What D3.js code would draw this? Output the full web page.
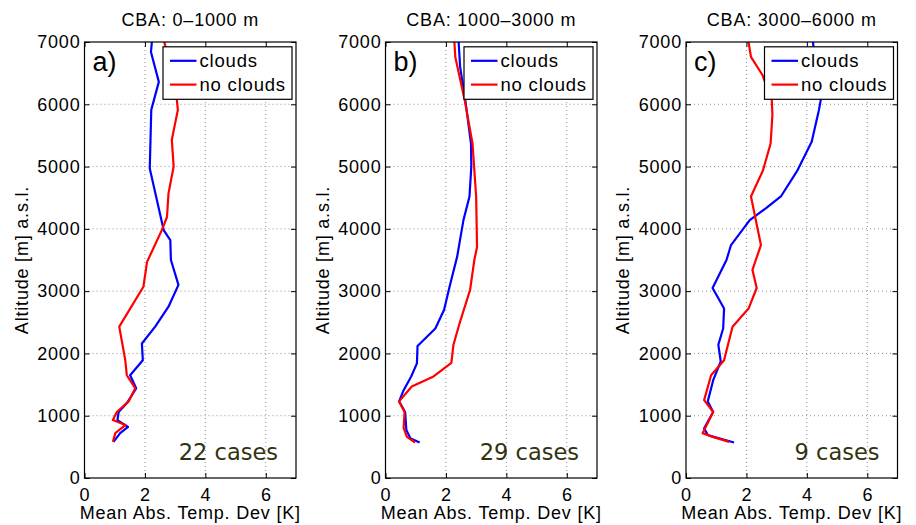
<!DOCTYPE html>
<html>
<head>
<meta charset="utf-8">
<script src="https://cdn.jsdelivr.net/npm/d3@7"></script>
<style>
  html, body { margin: 0; padding: 0; background: #fff; }
  svg { display: block; }
  text { font-family: "Liberation Sans", Arial, Helvetica, sans-serif; fill: #000; }
</style>
</head>
<body>
<svg id="chart" width="916" height="525"></svg>
<script>
// Mean absolute temperature deviation profiles, grouped by cloud base altitude (CBA)
const panelTitles = ["CBA: 0\u20131000 m", "CBA: 1000\u20133000 m", "CBA: 3000\u20136000 m"];
const panelTags = ["a)", "b)", "c)"];
const caseCounts = ["22 cases", "29 cases", "9 cases"];
const seriesNames = ["clouds", "no clouds"];
const xTicks = [0, 2, 4, 6];
const yTicks = [0, 1000, 2000, 3000, 4000, 5000, 6000, 7000];

// Panel a) CBA 0-1000 m
const altA_clouds = [7000, 6840, 6360, 5910, 4970, 3980, 3820, 3500, 3100, 2750, 2430, 2160, 1890, 1650, 1440, 1200, 1060, 930, 820, 720, 580];
const devA_clouds = [2.23, 2.20, 2.46, 2.21, 2.16, 2.62, 2.84, 2.86, 3.11, 2.78, 2.34, 1.90, 1.93, 1.51, 1.71, 1.40, 1.13, 1.09, 1.44, 1.18, 0.96];
const altA_noclouds = [7000, 6340, 5910, 5430, 5000, 4570, 4190, 3980, 3470, 3070, 2430, 1890, 1650, 1440, 1230, 1060, 930, 850, 720, 580];
const devA_noclouds = [2.64, 3.00, 3.09, 2.89, 2.95, 2.78, 2.73, 2.56, 2.07, 1.95, 1.15, 1.35, 1.40, 1.68, 1.46, 1.07, 0.94, 1.35, 1.02, 0.94];

// Panel b) CBA 1000-3000 m
const altB_clouds = [7000, 6600, 6070, 5370, 5000, 4520, 4140, 3550, 3070, 2700, 2400, 2120, 1840, 1630, 1410, 1230, 1060, 770, 640, 570];
const devB_clouds = [2.42, 2.47, 2.64, 2.83, 2.84, 2.78, 2.58, 2.37, 2.12, 1.94, 1.65, 1.06, 1.04, 0.85, 0.60, 0.45, 0.65, 0.69, 0.82, 1.13];
const altB_noclouds = [7000, 6760, 6070, 5370, 4520, 3710, 3500, 3020, 2480, 2140, 1850, 1630, 1470, 1230, 1060, 800, 660, 570];
const devB_noclouds = [2.28, 2.31, 2.62, 2.88, 3.00, 3.03, 2.94, 2.80, 2.45, 2.25, 2.18, 1.59, 0.87, 0.45, 0.63, 0.60, 0.71, 0.98];

// Panel c) CBA 3000-6000 m
const altC_clouds = [7000, 6070, 5910, 5400, 4940, 4520, 4330, 4140, 3740, 3500, 3050, 2720, 2400, 2140, 1870, 1570, 1230, 1060, 800, 690, 570];
const devC_clouds = [4.20, 4.46, 4.40, 4.16, 3.69, 3.14, 2.64, 2.11, 1.49, 1.34, 0.88, 1.26, 1.23, 1.07, 1.15, 0.90, 0.72, 0.90, 0.60, 0.72, 1.59];
const altC_noclouds = [7000, 6760, 6470, 6070, 5830, 5370, 4940, 4520, 3740, 3500, 3340, 3050, 2720, 2430, 1890, 1650, 1250, 1060, 720, 660, 580];
const devC_noclouds = [2.07, 2.15, 2.53, 2.84, 2.86, 2.80, 2.55, 2.15, 2.48, 2.31, 2.20, 2.34, 2.07, 1.54, 1.26, 0.83, 0.60, 0.90, 0.55, 0.88, 1.43];

const panels = [
  { clouds: [altA_clouds, devA_clouds], noclouds: [altA_noclouds, devA_noclouds] },
  { clouds: [altB_clouds, devB_clouds], noclouds: [altB_noclouds, devB_noclouds] },
  { clouds: [altC_clouds, devC_clouds], noclouds: [altC_noclouds, devC_noclouds] }
];

const seriesColors = ["#0000ff", "#ff0000"];
const svg = d3.select("#chart");

const lefts = [84.5, 385.5, 686];
const plotW = 211.5;
const plotTop = 42, plotBottom = 478;
const tickFont = "18px";
const spacing = "0.8px";

panels.forEach((p, i) => {
  const x0 = lefts[i];
  const x = d3.scaleLinear().domain([0, 7]).range([x0, x0 + plotW]);
  const y = d3.scaleLinear().domain([0, 7000]).range([plotBottom, plotTop]);
  const g = svg.append("g");

  // dotted grid
  g.append("g").selectAll("line").data(xTicks.filter(t => t > 0)).join("line")
    .attr("x1", d => x(d)).attr("x2", d => x(d)).attr("y1", plotTop).attr("y2", plotBottom)
    .attr("stroke", "#909090").attr("stroke-width", 1).attr("stroke-dasharray", "1,3");
  g.append("g").selectAll("line").data(yTicks.filter(t => t > 0 && t < 7000)).join("line")
    .attr("x1", x0).attr("x2", x0 + plotW).attr("y1", d => y(d)).attr("y2", d => y(d))
    .attr("stroke", "#909090").attr("stroke-width", 1).attr("stroke-dasharray", "1,3");

  // profile lines, clipped to the axes box
  const clipId = "clip" + i;
  svg.append("clipPath").attr("id", clipId).append("rect")
    .attr("x", x0).attr("y", plotTop).attr("width", plotW).attr("height", plotBottom - plotTop);
  const line = d3.line().x(d => x(d[1])).y(d => y(d[0]));
  [p.clouds, p.noclouds].forEach((s, k) => {
    const pts = s[0].map((a, j) => [a, s[1][j]]);
    g.append("path").datum(pts)
      .attr("clip-path", `url(#${clipId})`)
      .attr("d", line).attr("fill", "none")
      .attr("stroke", seriesColors[k]).attr("stroke-width", 2.2)
      .attr("stroke-linejoin", "round");
  });

  // axes: ticks point inward on all four sides
  const styleAxis = sel => {
    sel.select(".domain").remove();
    sel.selectAll(".tick line").attr("stroke", "#000");
    sel.selectAll(".tick text").style("font-size", tickFont).style("letter-spacing", spacing)
      .attr("fill", "#000").style("font-family", "'Liberation Sans', Arial, sans-serif");
  };
  g.append("g").attr("transform", `translate(0,${plotBottom})`)
    .call(d3.axisBottom(x).tickValues(xTicks).tickSizeInner(-5).tickSizeOuter(0).tickPadding(10).tickFormat(d3.format("d")))
    .call(styleAxis);
  g.append("g").attr("transform", `translate(0,${plotTop})`)
    .call(d3.axisTop(x).tickValues(xTicks).tickSizeInner(-5).tickSizeOuter(0).tickFormat(""))
    .call(styleAxis);
  g.append("g").attr("transform", `translate(${x0},0)`)
    .call(d3.axisLeft(y).tickValues(yTicks).tickSizeInner(-5).tickSizeOuter(0).tickPadding(4).tickFormat(d3.format("d")))
    .call(styleAxis);
  g.append("g").attr("transform", `translate(${x0 + plotW},0)`)
    .call(d3.axisRight(y).tickValues(yTicks).tickSizeInner(-5).tickSizeOuter(0).tickFormat(""))
    .call(styleAxis);

  // axes box
  g.append("rect").attr("x", x0).attr("y", plotTop).attr("width", plotW).attr("height", plotBottom - plotTop)
    .attr("fill", "none").attr("stroke", "#000").attr("stroke-width", 1.2);

  // title
  g.append("text").attr("x", x0 + plotW / 2).attr("y", 26).attr("text-anchor", "middle")
    .style("font-size", "18px").style("letter-spacing", spacing).text(panelTitles[i]);

  // axis labels
  g.append("text").attr("x", x0 + plotW / 2).attr("y", 519).attr("text-anchor", "middle")
    .style("font-size", "18px").style("letter-spacing", spacing).text("Mean Abs. Temp. Dev [K]");
  g.append("text")
    .attr("transform", `translate(${x0 - 57},${(plotTop + plotBottom) / 2}) rotate(-90)`)
    .attr("text-anchor", "middle")
    .style("font-size", "18px").style("letter-spacing", spacing).text("Altitude [m] a.s.l.");

  // panel tag
  g.append("text").attr("x", x0 + 8).attr("y", 71)
    .style("font-size", "27px").text(panelTags[i]);

  // number of cases
  g.append("text").attr("x", x0 + plotW - 18).attr("y", 460).attr("text-anchor", "end")
    .style("font-family", "'DejaVu Sans', sans-serif").style("font-size", "22.5px")
    .style("fill", "#30330f").text(caseCounts[i]);

  // legend
  const lw = 129, lh = 52.5;
  const lx = x0 + plotW - 4 - lw, ly = 46.8;
  const lg = g.append("g");
  lg.append("rect").attr("x", lx).attr("y", ly).attr("width", lw).attr("height", lh)
    .attr("fill", "#fff").attr("stroke", "#000").attr("stroke-width", 1.2);
  seriesNames.forEach((name, k) => {
    const ry = ly + 14 + k * 23.8;
    lg.append("line").attr("x1", lx + 7).attr("x2", lx + 33.5).attr("y1", ry).attr("y2", ry)
      .attr("stroke", seriesColors[k]).attr("stroke-width", 2.2);
    lg.append("text").attr("x", lx + 36.5).attr("y", ry).attr("dy", "0.36em")
      .style("font-size", "18.5px").style("letter-spacing", spacing).text(name);
  });
});
</script>
</body>
</html>
